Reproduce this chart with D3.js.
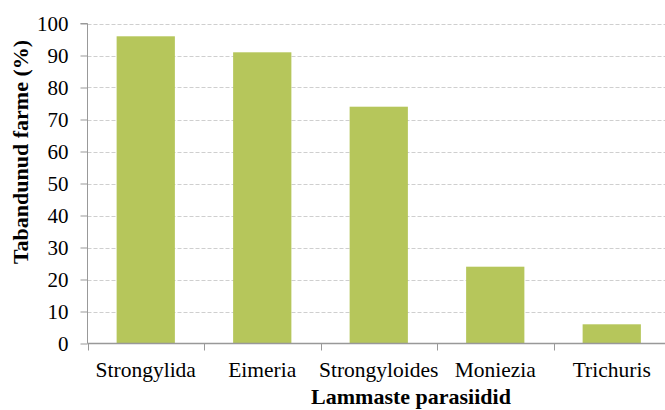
<!DOCTYPE html>
<html>
<head>
<meta charset="utf-8">
<script src="https://cdn.jsdelivr.net/npm/d3@7"></script>
<style>
  html, body { margin: 0; padding: 0; background: #fff; }
  svg { display: block; }
</style>
</head>
<body>
<svg id="chart" width="665" height="410"></svg>
<script>
// Parasite categories and share of infected farms (%)
const categories = ["Strongylida", "Eimeria", "Strongyloides", "Moniezia", "Trichuris"];
const values = [96, 91, 74, 24, 6];
const yTicks = [0, 10, 20, 30, 40, 50, 60, 70, 80, 90, 100];

const serif = "Liberation Serif";
const svg = d3.select("#chart");
const plotLeft = 87.5, plotRight = 670, plotTop = 23.5, plotBottom = 343.5;

const x = d3.scaleBand().domain(categories).range([plotLeft, plotRight]).paddingInner(0.5).paddingOuter(0.25);
const xEdges = d3.scaleLinear().domain([0, categories.length]).range([plotLeft, plotRight]);
const y = d3.scaleLinear().domain([0, 100]).range([plotBottom, plotTop]);

// dashed gridlines
svg.append("g").selectAll("line").data(yTicks.filter(d => d > 0)).join("line")
  .attr("x1", plotLeft).attr("x2", 665)
  .attr("y1", d => Math.round(y(d)) + 0.5).attr("y2", d => Math.round(y(d)) + 0.5)
  .attr("stroke", "#cfcfcf").attr("stroke-width", 1).attr("stroke-dasharray", "4,2");

// bars
svg.append("g").selectAll("rect").data(values).join("rect")
  .attr("x", (d, i) => x(categories[i]))
  .attr("width", x.bandwidth())
  .attr("y", d => y(d))
  .attr("height", d => y(0) - y(d))
  .attr("fill", "#b6c65b");

// y axis
const yAxis = svg.append("g").attr("transform", `translate(${plotLeft},0)`)
  .call(d3.axisLeft(y).tickValues(yTicks).tickSize(7).tickPadding(12));
yAxis.attr("font-family", serif).attr("font-size", "21px");
yAxis.select(".domain").attr("stroke", "#999").attr("d", `M-7,${y(100)}H0V${y(0)}`);
yAxis.selectAll(".tick line").attr("stroke", "#999");
yAxis.selectAll(".tick text")
  .style("font-family", serif).style("font-size", "21px").attr("fill", "#000").attr("dy", "0.34em");

// x axis line with category boundary ticks
svg.append("line").attr("x1", plotLeft).attr("x2", 665).attr("y1", plotBottom).attr("y2", plotBottom)
  .attr("stroke", "#999").attr("stroke-width", 1.5);
svg.append("g").selectAll("line").data(d3.range(categories.length + 1)).join("line")
  .attr("x1", d => Math.round(xEdges(d)) + 0.5).attr("x2", d => Math.round(xEdges(d)) + 0.5)
  .attr("y1", plotBottom).attr("y2", plotBottom + 7)
  .attr("stroke", "#999");

// category labels
svg.append("g").selectAll("text").data(categories).join("text")
  .attr("x", d => x(d) + x.bandwidth() / 2)
  .attr("y", 377)
  .attr("text-anchor", "middle")
  .style("font-family", serif).style("font-size", "21.5px")
  .text(d => d);

// axis titles
svg.append("text").attr("x", 411).attr("y", 404).attr("text-anchor", "middle")
  .style("font-family", serif).style("font-size", "22px").style("font-weight", "bold")
  .text("Lammaste parasiidid");
svg.append("text").attr("transform", "translate(28,152) rotate(-90)").attr("text-anchor", "middle")
  .style("font-family", serif).style("font-size", "22px").style("font-weight", "bold")
  .text("Tabandunud farme (%)");
</script>
</body>
</html>
